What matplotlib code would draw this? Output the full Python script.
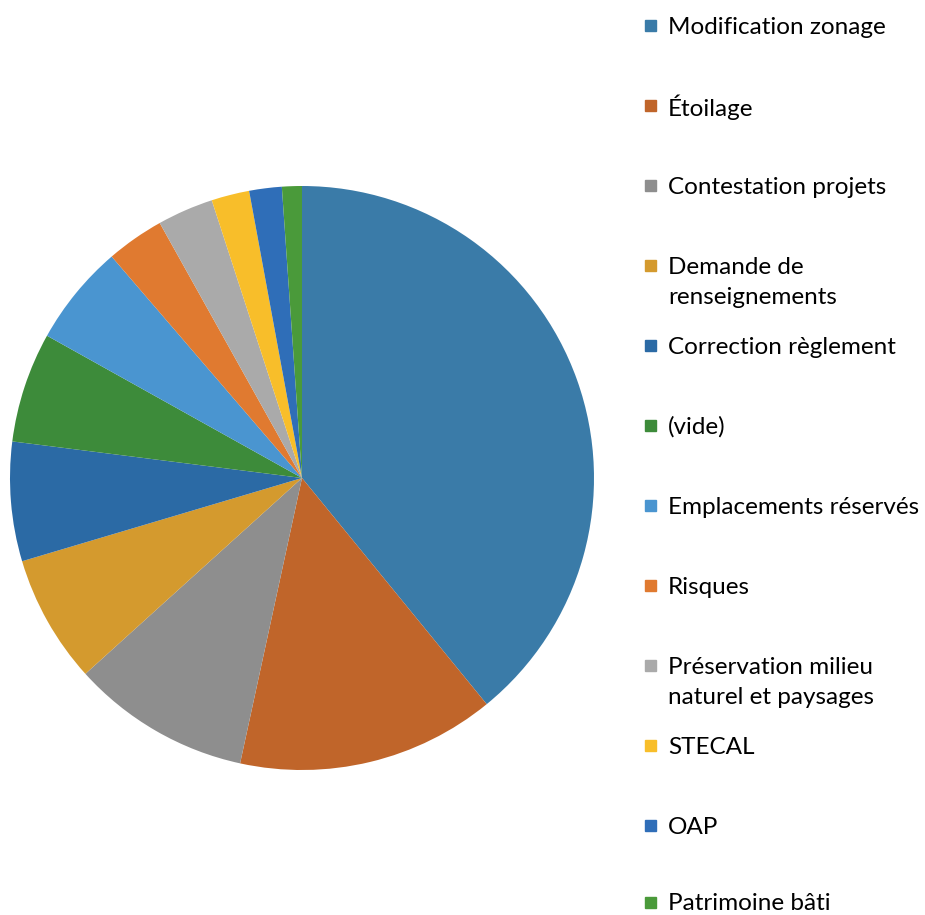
import matplotlib
matplotlib.use("Agg")
import matplotlib.pyplot as plt
from matplotlib.patches import Rectangle

# categories, in legend order (largest first)
labels = ["Modification zonage", "Étoilage", "Contestation projets",
          "Demande de\nrenseignements", "Correction règlement", "(vide)",
          "Emplacements réservés", "Risques",
          "Préservation milieu\nnaturel et paysages", "STECAL", "OAP",
          "Patrimoine bâti"]
# shares (percent)
values = [39.1, 14.3, 9.9, 7.1, 6.6, 6.1, 5.6, 3.2, 3.1, 2.1, 1.8, 1.1]
colors = ["#3A7BA8", "#C0652A", "#8E8E8E", "#D49A2E", "#2B6AA5", "#3D8B3A",
          "#4A95D0", "#E07A30", "#AAAAAA", "#F8BE2A", "#2F6EB8", "#4A9A3A"]

W, H = 925, 915
fig = plt.figure(figsize=(W / 100, H / 100), dpi=100)
fig.patch.set_facecolor("white")

# pie axes: circle centred at (302, 478) px, radius 292 px
ax = fig.add_axes([10 / W, 1 - 770 / H, 584 / W, 584 / H])
ax.pie(values, colors=colors, startangle=90, counterclock=False,
       wedgeprops=dict(linewidth=0))
ax.set_xlim(-1, 1)
ax.set_ylim(-1, 1)
ax.set_aspect("equal")
ax.axis("off")

# legend drawn by hand: one slot every 80 px, second lines 31 px below
for i, (lab, col) in enumerate(zip(labels, colors)):
    y = min(25 + 80 * i, 902)
    fig.patches.append(Rectangle((645 / W, 1 - (y + 6) / H), 11 / W, 11 / H,
                                 transform=fig.transFigure, color=col))
    for j, line in enumerate(lab.split("\n")):
        fig.text(668 / W, 1 - (y + 31 * j) / H, line, fontsize=17.5,
                 family="Lato", color="black", va="center_baseline", ha="left")

fig.savefig("out.png", dpi=100, facecolor="white")
